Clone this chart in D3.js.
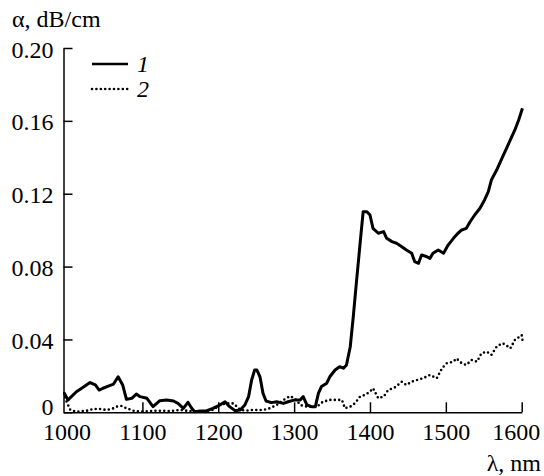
<!DOCTYPE html>
<html>
<head>
<meta charset="utf-8">
<script src="https://cdn.jsdelivr.net/npm/d3@7"></script>
<style>
  body { margin: 0; background: #fff; }
  svg { display: block; }
</style>
</head>
<body>
<div class="js-vis"></div>
<script>
// curve 1 (solid)
const wl1 = [
  997, 1002, 1013, 1020, 1031, 1038, 1043, 1048, 1055, 1062,
  1068, 1074, 1079, 1086, 1092, 1097, 1106, 1114, 1123, 1132,
  1141, 1147, 1154, 1160, 1165, 1169, 1176, 1185, 1193, 1202,
  1209, 1215, 1222, 1229, 1235, 1240, 1244, 1248, 1251, 1255,
  1259, 1263, 1270, 1277, 1286, 1292, 1301, 1308, 1312, 1317,
  1323, 1328, 1332, 1336, 1343, 1347, 1354, 1360, 1365, 1369,
  1374, 1378, 1382, 1387, 1391, 1396, 1400, 1404, 1411, 1418,
  1422, 1429, 1435, 1442, 1448, 1455, 1459, 1464, 1468, 1475,
  1479, 1483, 1490, 1497, 1503, 1510, 1516, 1521, 1527, 1532,
  1538, 1545, 1551, 1556, 1560, 1567, 1571, 1576, 1580, 1585,
  1591, 1596, 1601
]
const alpha1 = [
  .0104, .0068, .0113, .0132, .0163, .0150, .0122, .0132, .0144, .0155,
  .0195, .0150, .0071, .0077, .0100, .0086, .0077, .0031, .0064, .0068,
  .0062, .0049, .0022, .0055, .0022, .0003, .0007, .0009, .0022, .0040,
  .0058, .0031, .0009, .0013, .0040, .0086, .0177, .0232, .0232, .0195,
  .0104, .0062, .0053, .0058, .0049, .0058, .0068, .0068, .0086, .0040,
  .0031, .0031, .0104, .0141, .0160, .0195, .0232, .0250, .0242, .0260,
  .0360, .0525, .0708, .0928, .1101, .1101, .1083, .1010, .0983, .0992,
  .0955, .0937, .0928, .0909, .0891, .0873, .0827, .0818, .0864, .0854,
  .0845, .0873, .0891, .0873, .0918, .0955, .0983, .1001, .1010, .1046,
  .1083, .1120, .1166, .1211, .1275, .1330, .1367, .1413, .1449, .1495,
  .1550, .1605, .1669
]

// curve 2 (dotted)
const wl2 = [
  997, 999, 1002, 1005, 1013, 1027, 1035, 1044, 1053, 1062,
  1066, 1073, 1079, 1088, 1097, 1119, 1136, 1150, 1158, 1176,
  1185, 1193, 1202, 1211, 1220, 1229, 1237, 1246, 1259, 1268,
  1277, 1286, 1295, 1303, 1308, 1317, 1330, 1338, 1347, 1356,
  1363, 1367, 1374, 1380, 1387, 1393, 1400, 1404, 1411, 1418,
  1424, 1433, 1442, 1448, 1455, 1462, 1470, 1479, 1488, 1495,
  1501, 1510, 1514, 1521, 1527, 1534, 1541, 1547, 1554, 1560,
  1567, 1574, 1578, 1585, 1591, 1600, 1601
]
const alpha2 = [
  .0106, .0068, .0040, .0013, .0003, .0009, .0018, .0018, .0013, .0022,
  .0031, .0035, .0022, .0009, .0003, .0009, .0007, .0013, .0009, .0003,
  .0007, .0013, .0040, .0049, .0049, .0013, .0009, .0013, .0013, .0022,
  .0040, .0068, .0089, .0068, .0040, .0031, .0031, .0058, .0068, .0068,
  .0068, .0022, .0031, .0049, .0086, .0095, .0113, .0132, .0077, .0086,
  .0122, .0137, .0168, .0150, .0168, .0177, .0187, .0205, .0187, .0242,
  .0269, .0278, .0296, .0269, .0260, .0287, .0278, .0324, .0333, .0315,
  .0360, .0379, .0373, .0351, .0397, .0424, .0397
]

const xTicks = [1000, 1100, 1200, 1300, 1400, 1500, 1600]
const yTicks = [0, 0.04, 0.08, 0.12, 0.16, 0.20]
const legendLabels = ['1', '2']

const serif = "'Liberation Serif', 'Times New Roman', serif"
const ewidth = 544, eheight = 476
const margin = { top: 48, left: 63.5 },
    width = 458.2,
    height = 364.3

const svg = d3.select(".js-vis").append("svg")
    .attr("width", ewidth)
    .attr("height", eheight)
    .attr("font-family", serif)

const vis = svg.append("g")
    .attr("transform", "translate(" + margin.left + "," + margin.top + ")")

const x = d3.scaleLinear()
  .domain([996, 1600])
  .range([0, width])

const y = d3.scaleLinear()
  .domain([0, 0.2])
  .range([height, 0])

const xax = d3.axisBottom(x)
  .tickValues(xTicks)
  .tickSizeInner(-10)
  .tickSizeOuter(0)
  .tickPadding(11)
  .tickFormat(d3.format("d"))

const yax = d3.axisLeft(y)
  .tickValues(yTicks)
  .tickSizeInner(-9)
  .tickSizeOuter(0)
  .tickPadding(10)
  .tickFormat(d => d === 0 ? "0" : d3.format(".2f")(d))

const gx = vis.append("g")
    .attr("transform", "translate(0," + height + ")")
    .call(xax)

const gy = vis.append("g")
    .call(yax)

vis.selectAll("g").attr("font-family", serif)
vis.selectAll(".domain").attr("stroke", "#000").attr("stroke-width", 1.5)
vis.selectAll(".tick line").attr("stroke", "#000").attr("stroke-width", 1.5)
vis.selectAll(".tick text")
    .attr("font-family", serif)
    .attr("font-size", 24)
    .attr("fill", "#000")

// 1000 sits on the y axis, no tick mark there
gx.selectAll(".tick").filter(d => d === 1000).select("line").remove()
gx.selectAll(".tick").filter(d => d === 1600).select("text").attr("dx", "-6")
gy.selectAll(".tick").filter(d => d === 0).select("text").attr("dy", "0.1em")
gy.selectAll(".tick text").filter(d => d !== 0).attr("dy", "0.38em")

const line = d3.line()
  .x(d => x(d[0]))
  .y(d => y(d[1]))

vis.append("path")
    .datum(d3.zip(wl2, alpha2))
    .attr("fill", "none")
    .attr("stroke", "#000")
    .attr("stroke-width", 2.6)
    .attr("stroke-linecap", "round")
    .attr("stroke-dasharray", "0,4.4")
    .attr("d", line)

vis.append("path")
    .datum(d3.zip(wl1, alpha1))
    .attr("fill", "none")
    .attr("stroke", "#000")
    .attr("stroke-width", 3)
    .attr("stroke-linejoin", "round")
    .attr("d", line)

// legend
const legend = svg.append("g")
    .attr("transform", "translate(92,64)")

const items = legend.selectAll("g")
  .data(legendLabels)
.enter().append("g")
    .attr("transform", (d, i) => "translate(0," + i * 25 + ")")

items.append("line")
    .attr("x1", 0).attr("x2", 36)
    .attr("stroke", "#000")
    .attr("stroke-width", (d, i) => i ? 2.6 : 2.5)
    .attr("stroke-linecap", (d, i) => i ? "round" : "butt")
    .attr("stroke-dasharray", (d, i) => i ? "0,4.4" : null)

items.append("text")
    .attr("x", 45)
    .attr("y", 8)
    .attr("font-size", 24)
    .attr("font-style", "italic")
    .text(String)

// axis titles
svg.append("text")
    .attr("x", 12)
    .attr("y", 27)
    .attr("font-size", 24)
    .text("α, dB/cm")

svg.append("text")
    .attr("x", 541)
    .attr("y", 471)
    .attr("text-anchor", "end")
    .attr("font-size", 24)
    .text("λ, nm")
</script>
</body>
</html>
